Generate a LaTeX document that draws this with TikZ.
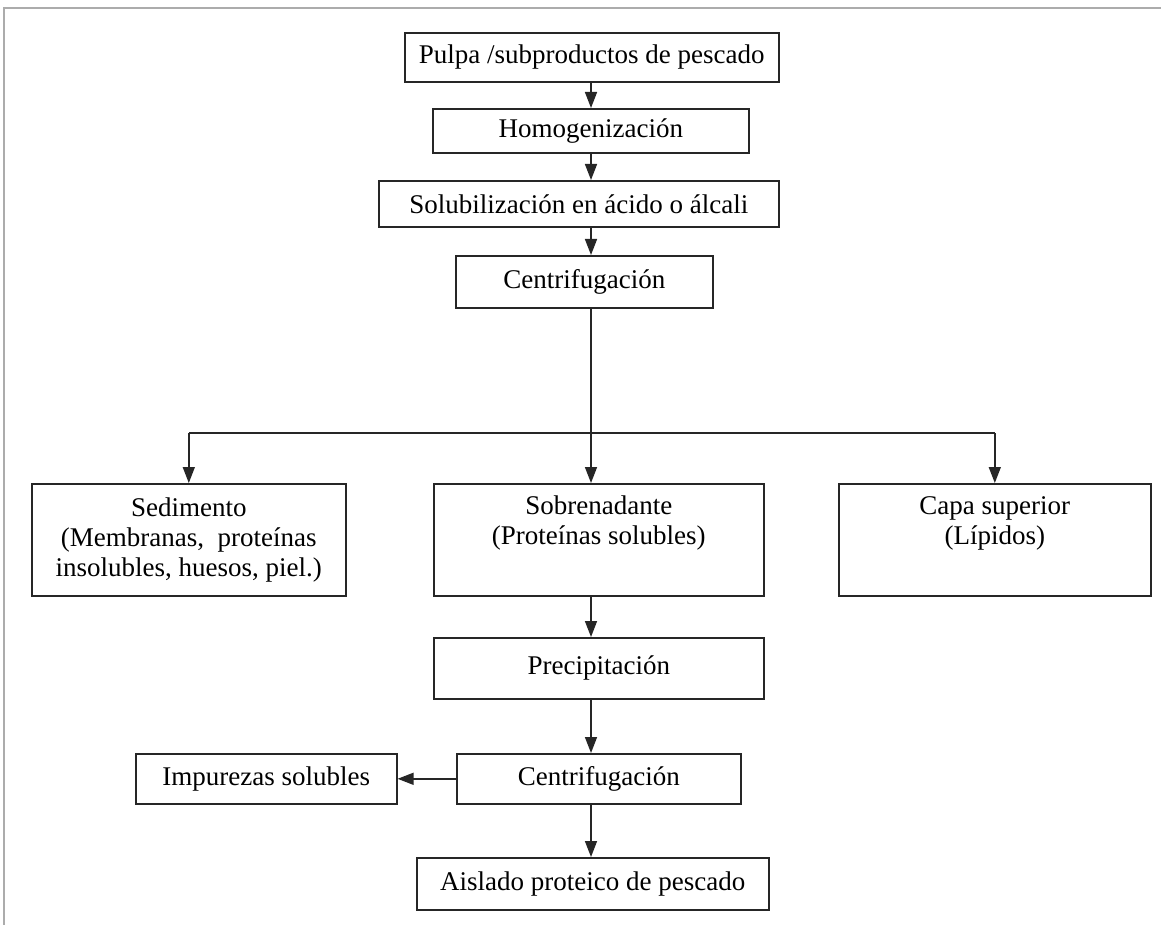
\documentclass[tikz,border=0pt]{standalone}
\usepackage{fontspec}
\setmainfont{Liberation Serif}
\usetikzlibrary{arrows.meta}
\begin{document}
\begin{tikzpicture}[x=1pt,y=-1pt,
  box/.style={draw=black!85, line width=1.6pt, inner sep=0pt, anchor=north west,
    font=\fontsize{27}{30}\selectfont, align=center},
  arr/.style={-{Triangle[width=12pt,length=16pt]}, line width=1.5pt, draw=black!85},
  ln/.style={line width=1.5pt, draw=black!85}]
\useasboundingbox (0,0) rectangle (1161,925);
\fill[white] (0,0) rectangle (1161,925);
\draw[gray!65, line width=2pt] (4,925) -- (4,8) -- (1161,8);

\node[box, minimum width=374pt, minimum height=49pt] (b1) at (404,32) {Pulpa /subproductos de pescado};
\node[box, minimum width=316pt, minimum height=44pt] (b2) at (432,108) {Homogenización};
\node[box, minimum width=400pt, minimum height=46pt] (b3) at (378,180) {Solubilización en ácido o álcali};
\node[box, minimum width=257pt, minimum height=52pt] (b4) at (455,255) {Centrifugación};
\node[box, minimum width=314pt, minimum height=112pt] (sed) at (31,483) {Sedimento\\(Membranas,\ \ proteínas\\insolubles, huesos, piel.)};
\node[box, minimum width=330pt, minimum height=112pt] (sob) at (433,483) {Sobrenadante\\(Proteínas solubles)\\\strut};
\node[box, minimum width=312pt, minimum height=112pt] (capa) at (838,483) {Capa superior\\(Lípidos)\\\strut};
\node[box, minimum width=330pt, minimum height=61pt] (prec) at (433,637) {Precipitación};
\node[box, minimum width=284pt, minimum height=50pt] (c2) at (456,753) {Centrifugación};
\node[box, minimum width=261pt, minimum height=50pt] (imp) at (135,753) {Impurezas solubles};
\node[box, minimum width=352pt, minimum height=52pt] (ais) at (416,857) {Aislado proteico de pescado};

\coordinate (sp) at (591,0);
\coordinate (j) at (591,433);

\draw[arr] (b1.south -| sp) -- (b2.north -| sp);
\draw[arr] (b2.south -| sp) -- (b3.north -| sp);
\draw[arr] (b3.south -| sp) -- (b4.north -| sp);
\draw[arr] (b4.south -| sp) -- (sob.north -| sp);
\draw[ln] (sed.north |- j) -- (capa.north |- j);
\draw[arr] (sed.north |- j) -- (sed.north);
\draw[arr] (capa.north |- j) -- (capa.north);
\draw[arr] (sob.south -| sp) -- (prec.north -| sp);
\draw[arr] (prec.south -| sp) -- (c2.north -| sp);
\draw[arr] (c2.west) -- (imp.east);
\draw[arr] (c2.south -| sp) -- (ais.north -| sp);
\end{tikzpicture}
\end{document}
